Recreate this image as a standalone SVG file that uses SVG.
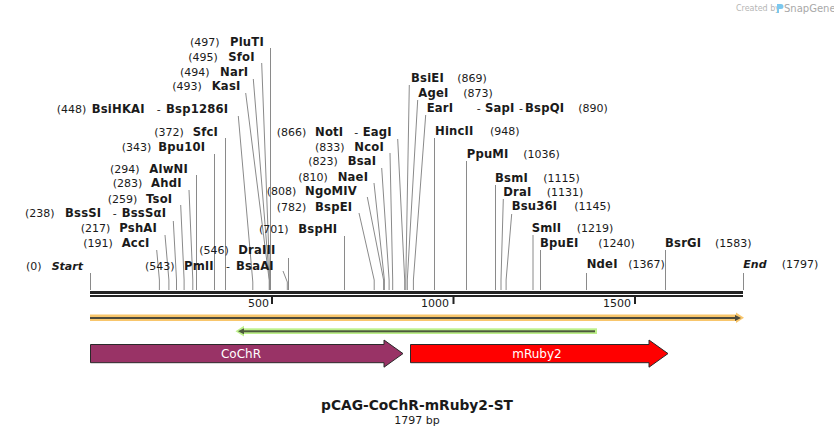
<svg xmlns="http://www.w3.org/2000/svg" width="834" height="436" viewBox="0 0 834 436">
<style>
text{font-family:"DejaVu Sans",Verdana,sans-serif;font-size:11px;fill:#1a1a1a}
.n{font-weight:bold;font-size:11.6px;letter-spacing:0.2px}
.it{font-weight:bold;font-style:italic;font-size:11px}
.lead{stroke:#8a8a8a;stroke-width:1;fill:none}
.tick{font-size:11px}
.feat{stroke:#2a2a2a;stroke-width:1}
.ft{fill:#ffffff;font-size:12px;text-anchor:middle}
</style>
<rect width="834" height="436" fill="#ffffff"/>
<g id="logo">
<text x="736" y="11" style="font-size:8px;fill:#b5b5b5">Created by</text>
<path d="M777,4 h4 a2.5,2.5 0 0 1 0,5 h-2 v4 h-2 z" fill="#7cc8ee"/>
<text x="784" y="12" style="font-size:10px;fill:#a8a8a8">SnapGene</text>
</g>
<g id="connectors">
<polyline class="lead" points="270.5,48 270.5,290"/>
<polyline class="lead" points="261.7,63 269.9,280 269.9,290"/>
<polyline class="lead" points="253.3,79 269.5,280 269.5,290"/>
<polyline class="lead" points="245.7,93 269.2,280 269.2,290"/>
<polyline class="lead" points="238.3,116 252.8,282 252.8,290"/>
<polyline class="lead" points="225.5,138 225.5,290"/>
<polyline class="lead" points="214.5,154 214.5,290"/>
<polyline class="lead" points="196.5,175 196.5,290"/>
<polyline class="lead" points="189,190 192.8,280 192.8,290"/>
<polyline class="lead" points="180.7,205 184.1,280 184.1,290"/>
<polyline class="lead" points="173.3,221 176.5,280 176.5,290"/>
<polyline class="lead" points="165,235 168.9,280 168.9,290"/>
<polyline class="lead" points="156.7,250 159.4,280 159.4,290"/>
<polyline class="lead" points="90.5,273 90.5,290"/>
<polyline class="lead" points="288.5,258 288.5,290"/>
<polyline class="lead" points="283,271 287.3,282 287.3,290"/>
<polyline class="lead" points="344.5,236 344.5,290"/>
<polyline class="lead" points="359,213 374.2,280 374.2,290"/>
<polyline class="lead" points="367.3,197 383.6,280 383.6,290"/>
<polyline class="lead" points="374,183 384.4,280 384.4,290"/>
<polyline class="lead" points="381.7,168 389.1,280 389.1,290"/>
<polyline class="lead" points="390,153 392.7,280 392.7,290"/>
<polyline class="lead" points="397.7,139 404.7,280 404.7,290"/>
<polyline class="lead" points="409.3,85 405.8,280 405.8,290"/>
<polyline class="lead" points="417.7,100 407.3,280 407.3,290"/>
<polyline class="lead" points="425.7,115 413.4,280 413.4,290"/>
<polyline class="lead" points="434.5,138 434.5,290"/>
<polyline class="lead" points="466.5,161 466.5,290"/>
<polyline class="lead" points="495.5,185 495.5,290"/>
<polyline class="lead" points="503.3,199 501,280 501,290"/>
<polyline class="lead" points="511.7,214 506.1,280 506.1,290"/>
<polyline class="lead" points="533,235 533,290"/>
<polyline class="lead" points="540.5,250 540.5,290"/>
<polyline class="lead" points="665.5,250 665.5,290"/>
<polyline class="lead" points="586.5,273 586.5,290"/>
<polyline class="lead" points="743.5,273 743.5,290"/>
</g>
<g id="backbone">
<rect x="90" y="291" width="653" height="3" fill="#222"/>
<rect x="90" y="295" width="653" height="2" fill="#222"/>
<rect x="271" y="297" width="2" height="7" fill="#222"/>
<rect x="452.5" y="297" width="2" height="7" fill="#222"/>
<rect x="634" y="297" width="2" height="7" fill="#222"/>
<text class="tick" x="269" y="307" text-anchor="end">500</text>
<text class="tick" x="449" y="307" text-anchor="end">1000</text>
<text class="tick" x="631" y="307" text-anchor="end">1500</text>
</g>
<g id="orange-feature">
<rect x="90" y="314.5" width="648" height="6.5" fill="#f8c66c"/>
<path d="M736,312.5 L744,317.8 L736,323 Z" fill="#f8c66c"/>
<rect x="90" y="317" width="648" height="2" fill="#4d4a3c"/>
<path d="M735,315 L741,318 L735,321 Z" fill="#4d4a3c"/>
</g>
<g id="green-feature">
<rect x="242" y="328.3" width="355" height="5.7" fill="#bdf08a"/>
<path d="M244,325.8 L235.5,331.2 L244,336.6 Z" fill="#bdf08a"/>
<rect x="243" y="330.3" width="352" height="2" fill="#4d5a3c"/>
<path d="M244,328.3 L238,331.3 L244,334.3 Z" fill="#4d5a3c"/>
</g>
<g id="CoChR">
<path class="feat" d="M90.5,344.5 H384 V340 L403,353.6 L384,367.2 V362.7 H90.5 Z" fill="#993366"/>
<text class="ft" x="241" y="357.5">CoChR</text>
</g>
<g id="mRuby2">
<path class="feat" d="M410.5,344.5 H649 V340 L668,353.6 L649,367.2 V362.7 H410.5 Z" fill="#ff0000"/>
<text class="ft" x="537" y="357.5">mRuby2</text>
</g>
<g id="PluTI"><text y="46"><tspan x="190">(497)</tspan><tspan class="n" x="230">PluTI</tspan></text></g>
<g id="SfoI"><text y="61"><tspan x="188.3">(495)</tspan><tspan class="n" x="228.3">SfoI</tspan></text></g>
<g id="NarI"><text y="76"><tspan x="180">(494)</tspan><tspan class="n" x="220">NarI</tspan></text></g>
<g id="KasI"><text y="90"><tspan x="172.3">(493)</tspan><tspan class="n" x="211.7">KasI</tspan></text></g>
<g id="BsiHKAI"><text y="113"><tspan x="56.7">(448)</tspan><tspan class="n" x="91.7">BsiHKAI</tspan><tspan x="156.7">-</tspan><tspan class="n" x="166" letter-spacing="0.8">Bsp1286I</tspan></text></g>
<g id="SfcI"><text y="136"><tspan x="154.3">(372)</tspan><tspan class="n" x="192.7">SfcI</tspan></text></g>
<g id="Bpu10I"><text y="151"><tspan x="121.7">(343)</tspan><tspan class="n" x="158.3">Bpu10I</tspan></text></g>
<g id="AlwNI"><text y="173"><tspan x="110">(294)</tspan><tspan class="n" x="149.3">AlwNI</tspan></text></g>
<g id="AhdI"><text y="187"><tspan x="112.7">(283)</tspan><tspan class="n" x="151">AhdI</tspan></text></g>
<g id="TsoI"><text y="203"><tspan x="107.7">(259)</tspan><tspan class="n" x="146">TsoI</tspan></text></g>
<g id="BssSI"><text y="217"><tspan x="25">(238)</tspan><tspan class="n" x="65">BssSI</tspan><tspan x="112.7">-</tspan><tspan class="n" x="121.7">BssSαI</tspan></text></g>
<g id="PshAI"><text y="232"><tspan x="80.7">(217)</tspan><tspan class="n" x="119.3">PshAI</tspan></text></g>
<g id="AccI"><text y="247"><tspan x="83.3">(191)</tspan><tspan class="n" x="121.7">AccI</tspan></text></g>
<g id="Start"><text y="270"><tspan x="26">(0)</tspan><tspan class="it" x="51.7">Start</tspan></text></g>
<g id="DraIII"><text y="254"><tspan x="199.3">(546)</tspan><tspan class="n" x="238.3">DraIII</tspan></text></g>
<g id="PmlI"><text y="270"><tspan x="145">(543)</tspan><tspan class="n" x="184">PmlI</tspan><tspan x="226">-</tspan><tspan class="n" x="236">BsaAI</tspan></text></g>
<g id="BspHI"><text y="233"><tspan x="259">(701)</tspan><tspan class="n" x="298.3">BspHI</tspan></text></g>
<g id="BspEI"><text y="211"><tspan x="276.7">(782)</tspan><tspan class="n" x="315">BspEI</tspan></text></g>
<g id="NgoMIV"><text y="195"><tspan x="266.7">(808)</tspan><tspan class="n" x="305">NgoMIV</tspan></text></g>
<g id="NaeI"><text y="181"><tspan x="298.3">(810)</tspan><tspan class="n" x="337.7">NaeI</tspan></text></g>
<g id="BsaI"><text y="165"><tspan x="308.3">(823)</tspan><tspan class="n" x="347.7">BsaI</tspan></text></g>
<g id="NcoI"><text y="151"><tspan x="315">(833)</tspan><tspan class="n" x="354.3">NcoI</tspan></text></g>
<g id="NotI"><text y="136"><tspan x="276.7">(866)</tspan><tspan class="n" x="315">NotI</tspan><tspan x="354.3">-</tspan><tspan class="n" x="362.7">EagI</tspan></text></g>
<g id="BsiEI"><text y="82"><tspan class="n" x="411">BsiEI</tspan><tspan x="457.3">(869)</tspan></text></g>
<g id="AgeI"><text y="97"><tspan class="n" x="418.3">AgeI</tspan><tspan x="463.3">(873)</tspan></text></g>
<g id="EarI"><text y="112"><tspan class="n" x="426.7">EarI</tspan><tspan x="476.7">-</tspan><tspan class="n" x="485">SapI</tspan><tspan x="519">-</tspan><tspan class="n" x="525">BspQI</tspan><tspan x="578.3">(890)</tspan></text></g>
<g id="HincII"><text y="135"><tspan class="n" x="435">HincII</tspan><tspan x="490">(948)</tspan></text></g>
<g id="PpuMI"><text y="158"><tspan class="n" x="466.7">PpuMI</tspan><tspan x="523.3">(1036)</tspan></text></g>
<g id="BsmI"><text y="182"><tspan class="n" x="495">BsmI</tspan><tspan x="543.3">(1115)</tspan></text></g>
<g id="DraI"><text y="196"><tspan class="n" x="503.3">DraI</tspan><tspan x="546.7">(1131)</tspan></text></g>
<g id="Bsu36I"><text y="210"><tspan class="n" x="511.7">Bsu36I</tspan><tspan x="574.3">(1145)</tspan></text></g>
<g id="SmlI"><text y="232"><tspan class="n" x="531.7">SmlI</tspan><tspan x="576.7">(1219)</tspan></text></g>
<g id="BpuEI"><text y="247"><tspan class="n" x="540">BpuEI</tspan><tspan x="598.3">(1240)</tspan></text></g>
<g id="BsrGI"><text y="247"><tspan class="n" x="665">BsrGI</tspan><tspan x="715">(1583)</tspan></text></g>
<g id="NdeI"><text y="268"><tspan class="n" x="586.7">NdeI</tspan><tspan x="628.3">(1367)</tspan></text></g>
<g id="End"><text y="268"><tspan class="it" x="743.3">End</tspan><tspan x="781.7">(1797)</tspan></text></g>
<g id="title">
<text x="417" y="410" text-anchor="middle" style="font-size:13.8px;font-weight:bold">pCAG-CoChR-mRuby2-ST</text>
<text x="417" y="424" text-anchor="middle" style="font-size:11px">1797 bp</text>
</g>
</svg>
